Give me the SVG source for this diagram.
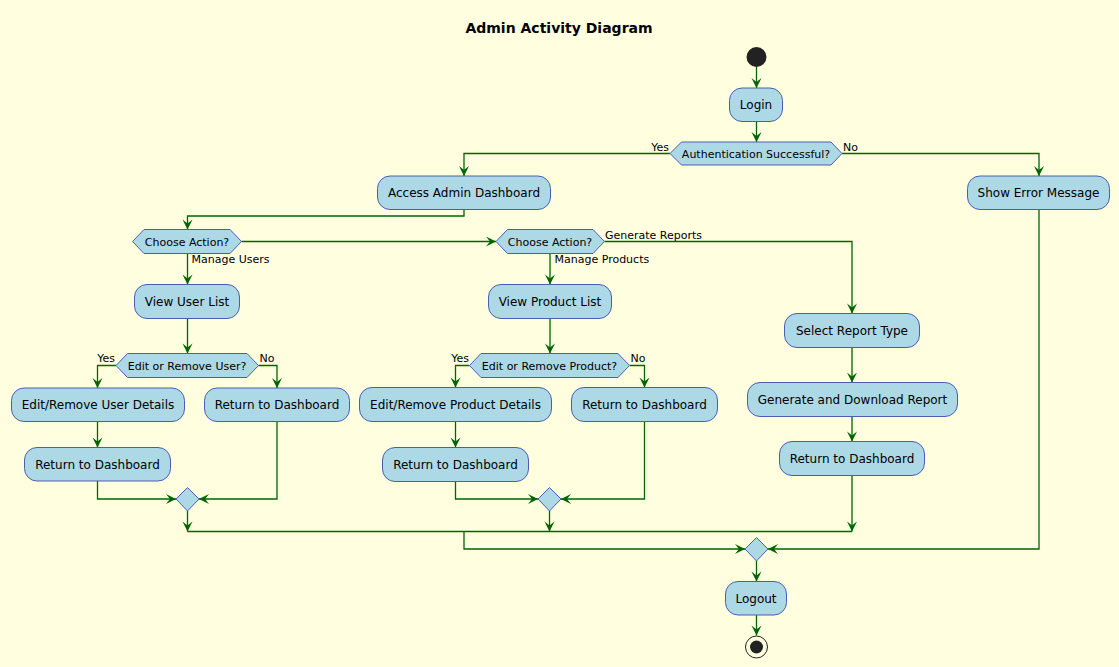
<svg xmlns="http://www.w3.org/2000/svg" width="1119" height="667" viewBox="0 0 1119 667">
<style>
.act{fill:#ADD8E6;stroke:#4A5EB0;stroke-width:1}
.t{font-family:"DejaVu Sans","Liberation Sans",sans-serif;font-size:12px;fill:#000;text-anchor:middle}
.td{font-family:"DejaVu Sans","Liberation Sans",sans-serif;font-size:11px;fill:#000;text-anchor:middle}
.lbl{font-family:"DejaVu Sans","Liberation Sans",sans-serif;font-size:11px;fill:#000}
.e{text-anchor:end}
.c{fill:none;stroke:#006400;stroke-width:1.3}
.a{marker-end:url(#arr)}
</style>
<defs>
<marker id="arr" markerUnits="userSpaceOnUse" markerWidth="12" markerHeight="12" refX="10" refY="5" orient="auto" overflow="visible">
<path d="M0,0 L10,5 L0,10 L4,5 Z" fill="#006400"/>
</marker>
</defs>
<rect width="1119" height="667" fill="#FFFFE0"/>
<text x="559" y="33" font-family="DejaVu Sans, Liberation Sans, sans-serif" font-size="14" font-weight="bold" text-anchor="middle">Admin Activity Diagram</text>

<g id="connectors">
<path class="c a" d="M756.5,67 V88"/>
<path class="c a" d="M756.5,121.5 V142"/>
<path class="c a" d="M670,153.5 H464 V176"/>
<path class="c a" d="M842,153.5 H1039 V176"/>
<path class="c a" d="M464,209.5 V216 H187.5 V229.5"/>
<path class="c a" d="M241.5,241.5 H496"/>
<path class="c a" d="M187.5,253.5 V284.5"/>
<path class="c a" d="M187.5,318.5 V353.5"/>
<path class="c a" d="M116,365.5 H97.5 V388"/>
<path class="c a" d="M258.5,365.5 H277 V388"/>
<path class="c a" d="M97.5,421.5 V447.5"/>
<path class="c a" d="M97.5,481 V499 H176"/>
<path class="c a" d="M277,421.5 V499 H199"/>
<path class="c a" d="M187.5,511 V531.5"/>
<path class="c a" d="M550,253.5 V284.5"/>
<path class="c a" d="M550,318.5 V353.5"/>
<path class="c a" d="M469.5,365.5 H455.5 V387.5"/>
<path class="c a" d="M629.5,365.5 H644.5 V387.5"/>
<path class="c a" d="M455.5,421.5 V447.5"/>
<path class="c a" d="M455.5,481.5 V499 H538"/>
<path class="c a" d="M644.5,421.5 V499 H561"/>
<path class="c a" d="M549.5,511 V531.5"/>
<path class="c a" d="M604.5,241.5 H852 V313.5"/>
<path class="c a" d="M852,347.5 V382.5"/>
<path class="c a" d="M852,416.5 V441.5"/>
<path class="c a" d="M852,475.5 V531.5"/>
<path class="c" d="M187.5,531.5 H852"/>
<path class="c a" d="M464,531.5 V549 H745"/>
<path class="c a" d="M1039,209.5 V549 H768"/>
<path class="c a" d="M756.5,561 V581.5"/>
<path class="c a" d="M756.5,615 V635.5"/>
<text class="lbl e" x="669" y="150.5">Yes</text>
<text class="lbl" x="843" y="150.5">No</text>
<text class="lbl" x="191.5" y="263">Manage Users</text>
<text class="lbl" x="554.5" y="263">Manage Products</text>
<text class="lbl" x="605" y="238.5">Generate Reports</text>
<text class="lbl e" x="115" y="362">Yes</text>
<text class="lbl" x="259.5" y="362">No</text>
<text class="lbl e" x="469" y="362">Yes</text>
<text class="lbl" x="630.5" y="362">No</text>
</g>

<g id="start"><circle cx="756.5" cy="57" r="10" fill="#222222"/></g>
<g id="login"><rect class="act" x="729.5" y="88" width="53" height="33.5" rx="12.5"/><text class="t" x="756" y="109">Login</text></g>
<g id="auth"><polygon class="act" points="670,153.5 681.5,142 831,142 842,153.5 831,165 681.5,165"/><text class="td" x="756" y="157.5">Authentication Successful?</text></g>
<g id="dashboard"><rect class="act" x="377.5" y="176" width="173" height="33.5" rx="12.5"/><text class="t" x="464" y="197">Access Admin Dashboard</text></g>
<g id="error"><rect class="act" x="967.5" y="176" width="142" height="33.5" rx="12.5"/><text class="t" x="1038.5" y="197">Show Error Message</text></g>
<g id="choose1"><polygon class="act" points="132.5,241.5 144,229.5 230,229.5 241.5,241.5 230,253.5 144,253.5"/><text class="td" x="187" y="245.5">Choose Action?</text></g>
<g id="choose2"><polygon class="act" points="496,241.5 507.5,229.5 593,229.5 604.5,241.5 593,253.5 507.5,253.5"/><text class="td" x="550" y="245.5">Choose Action?</text></g>
<g id="viewUsers"><rect class="act" x="134.5" y="284.5" width="105" height="34" rx="12.5"/><text class="t" x="187" y="306">View User List</text></g>
<g id="editUser"><polygon class="act" points="116,365.5 127.5,353.5 247,353.5 258.5,365.5 247,377.5 127.5,377.5"/><text class="td" x="187" y="369.5">Edit or Remove User?</text></g>
<g id="editUserDetails"><rect class="act" x="11.5" y="388" width="173" height="33.5" rx="12.5"/><text class="t" x="98" y="409">Edit/Remove User Details</text></g>
<g id="userReturnNo"><rect class="act" x="204.5" y="388" width="145" height="33.5" rx="12.5"/><text class="t" x="277" y="409">Return to Dashboard</text></g>
<g id="userReturnYes"><rect class="act" x="24.5" y="447.5" width="146" height="33.5" rx="12.5"/><text class="t" x="97.5" y="468.5">Return to Dashboard</text></g>
<g id="userMerge"><polygon class="act" points="176,499 187.5,487.5 199,499 187.5,511"/></g>
<g id="viewProducts"><rect class="act" x="488.5" y="284.5" width="123" height="34" rx="12.5"/><text class="t" x="550" y="306">View Product List</text></g>
<g id="editProduct"><polygon class="act" points="469.5,365.5 481,353.5 618,353.5 629.5,365.5 618,377.5 481,377.5"/><text class="td" x="549.5" y="369.5">Edit or Remove Product?</text></g>
<g id="editProductDetails"><rect class="act" x="359.5" y="387.5" width="192" height="34" rx="12.5"/><text class="t" x="455.5" y="409">Edit/Remove Product Details</text></g>
<g id="productReturnNo"><rect class="act" x="571.5" y="387.5" width="146" height="34" rx="12.5"/><text class="t" x="644.5" y="409">Return to Dashboard</text></g>
<g id="productReturnYes"><rect class="act" x="382.5" y="447.5" width="146" height="34" rx="12.5"/><text class="t" x="455.5" y="469">Return to Dashboard</text></g>
<g id="productMerge"><polygon class="act" points="538,499 549.5,487.5 561,499 549.5,511"/></g>
<g id="selectReport"><rect class="act" x="784.5" y="313.5" width="135" height="34" rx="12.5"/><text class="t" x="852" y="335">Select Report Type</text></g>
<g id="generateReport"><rect class="act" x="747.5" y="382.5" width="210" height="34" rx="12.5"/><text class="t" x="852.5" y="404">Generate and Download Report</text></g>
<g id="reportReturn"><rect class="act" x="779.5" y="441.5" width="145" height="34" rx="12.5"/><text class="t" x="852" y="463">Return to Dashboard</text></g>
<g id="finalMerge"><polygon class="act" points="745,549 756.5,537.5 768,549 756.5,561"/></g>
<g id="logout"><rect class="act" x="725.5" y="581.5" width="61" height="33.5" rx="12.5"/><text class="t" x="756" y="602.5">Logout</text></g>
<g id="end"><circle cx="756.5" cy="647" r="11" fill="none" stroke="#222222" stroke-width="1"/><circle cx="756.5" cy="647" r="6.5" fill="#222222"/></g>
</svg>
